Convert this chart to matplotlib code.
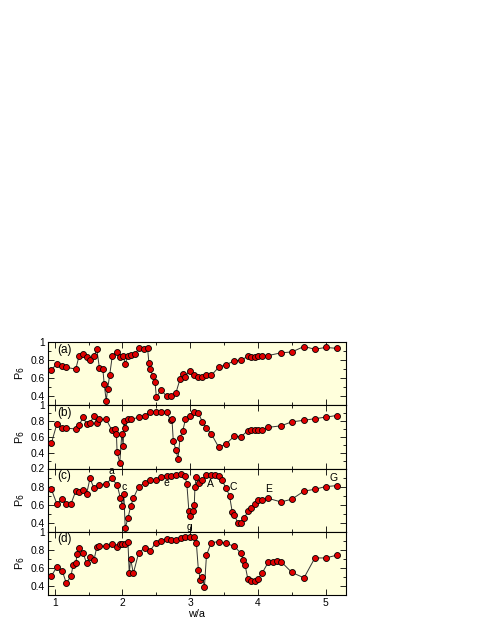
import matplotlib
matplotlib.use("Agg")
import matplotlib.pyplot as plt
from matplotlib.ticker import MultipleLocator

plt.rcParams['font.family'] = ['Liberation Sans', 'DejaVu Sans']

# ---- data ----
xa = [0.95, 1.03, 1.11, 1.17, 1.31, 1.36, 1.41, 1.47, 1.52, 1.58, 1.62, 1.66, 1.71, 1.73, 1.76,
      1.78, 1.81, 1.85, 1.92, 1.97, 2.01, 2.04, 2.08, 2.13, 2.19, 2.24, 2.32, 2.37, 2.39, 2.41,
      2.45, 2.48, 2.50, 2.57, 2.65, 2.72, 2.79, 2.85, 2.90, 2.92, 2.99, 3.06, 3.12, 3.18, 3.24,
      3.31, 3.42, 3.53, 3.65, 3.75, 3.85, 3.90, 3.95, 4.00, 4.06, 4.15, 4.34, 4.50, 4.68, 4.84,
      5.00, 5.16]
ya = [0.69, 0.76, 0.73, 0.72, 0.70, 0.85, 0.87, 0.83, 0.80, 0.84, 0.92, 0.71, 0.70, 0.53, 0.35,
      0.48, 0.63, 0.85, 0.89, 0.83, 0.84, 0.76, 0.85, 0.86, 0.87, 0.93, 0.92, 0.93, 0.77, 0.70,
      0.62, 0.56, 0.39, 0.47, 0.40, 0.40, 0.44, 0.59, 0.65, 0.61, 0.68, 0.63, 0.61, 0.61, 0.63,
      0.63, 0.72, 0.75, 0.79, 0.80, 0.84, 0.83, 0.83, 0.84, 0.85, 0.85, 0.88, 0.89, 0.95, 0.92,
      0.94, 0.93]

xb = [0.95, 1.03, 1.11, 1.17, 1.31, 1.36, 1.42, 1.47, 1.52, 1.58, 1.62, 1.66, 1.76, 1.84, 1.89,
      1.91, 1.92, 1.96, 1.99, 2.01, 2.02, 2.04, 2.08, 2.13, 2.24, 2.33, 2.41, 2.49, 2.57, 2.65,
      2.71, 2.73, 2.75, 2.79, 2.82, 2.85, 2.89, 2.93, 2.99, 3.06, 3.12, 3.18, 3.24, 3.31, 3.42,
      3.53, 3.65, 3.75, 3.85, 3.90, 3.95, 4.00, 4.06, 4.15, 4.34, 4.50, 4.68, 4.84, 5.00, 5.16]
yb = [0.52, 0.76, 0.71, 0.71, 0.70, 0.75, 0.85, 0.76, 0.78, 0.86, 0.78, 0.82, 0.82, 0.69, 0.70,
      0.64, 0.41, 0.27, 0.64, 0.49, 0.80, 0.71, 0.82, 0.82, 0.85, 0.87, 0.92, 0.92, 0.91, 0.91,
      0.81, 0.83, 0.55, 0.43, 0.32, 0.59, 0.68, 0.82, 0.87, 0.91, 0.90, 0.79, 0.71, 0.64, 0.47,
      0.51, 0.61, 0.60, 0.68, 0.69, 0.69, 0.69, 0.69, 0.72, 0.74, 0.79, 0.81, 0.83, 0.85, 0.87]

xc = [0.95, 1.03, 1.11, 1.17, 1.24, 1.31, 1.36, 1.42, 1.47, 1.52, 1.58, 1.66, 1.76, 1.84, 1.92,
      1.97, 2.00, 2.02, 2.04, 2.08, 2.12, 2.16, 2.24, 2.33, 2.41, 2.49, 2.57, 2.65, 2.72, 2.79,
      2.86, 2.92, 2.95, 2.98, 3.00, 3.04, 3.06, 3.07, 3.09, 3.13, 3.18, 3.24, 3.31, 3.36, 3.42,
      3.47, 3.53, 3.58, 3.62, 3.65, 3.70, 3.75, 3.80, 3.85, 3.90, 3.95, 4.00, 4.06, 4.15, 4.34,
      4.50, 4.68, 4.84, 5.00, 5.16]
yc = [0.77, 0.61, 0.66, 0.61, 0.61, 0.75, 0.74, 0.76, 0.72, 0.89, 0.78, 0.82, 0.83, 0.89, 0.82,
      0.67, 0.58, 0.72, 0.34, 0.45, 0.58, 0.67, 0.80, 0.84, 0.87, 0.87, 0.91, 0.92, 0.92, 0.93,
      0.94, 0.92, 0.83, 0.53, 0.47, 0.53, 0.60, 0.80, 0.91, 0.84, 0.87, 0.93, 0.93, 0.93, 0.92,
      0.87, 0.78, 0.70, 0.52, 0.49, 0.40, 0.40, 0.45, 0.53, 0.56, 0.61, 0.65, 0.65, 0.67, 0.63,
      0.66, 0.75, 0.77, 0.80, 0.81]

xd = [0.95, 1.03, 1.11, 1.17, 1.24, 1.27, 1.31, 1.33, 1.36, 1.42, 1.47, 1.52, 1.58, 1.62, 1.66,
      1.76, 1.85, 1.92, 1.96, 2.00, 2.04, 2.08, 2.10, 2.12, 2.16, 2.24, 2.33, 2.41, 2.49, 2.57,
      2.65, 2.72, 2.79, 2.86, 2.92, 2.99, 3.06, 3.09, 3.12, 3.15, 3.18, 3.21, 3.24, 3.31, 3.42,
      3.53, 3.65, 3.75, 3.78, 3.81, 3.85, 3.90, 3.95, 4.00, 4.06, 4.15, 4.22, 4.28, 4.34, 4.50,
      4.68, 4.84, 5.00, 5.16]
yd = [0.51, 0.61, 0.57, 0.43, 0.51, 0.63, 0.65, 0.75, 0.82, 0.76, 0.65, 0.72, 0.69, 0.83, 0.84,
      0.84, 0.86, 0.83, 0.86, 0.86, 0.86, 0.89, 0.54, 0.70, 0.54, 0.77, 0.82, 0.79, 0.88, 0.90,
      0.92, 0.91, 0.91, 0.93, 0.94, 0.94, 0.94, 0.88, 0.58, 0.47, 0.50, 0.39, 0.74, 0.88, 0.89,
      0.87, 0.84, 0.76, 0.69, 0.63, 0.48, 0.45, 0.45, 0.48, 0.54, 0.66, 0.67, 0.68, 0.67, 0.55,
      0.49, 0.71, 0.71, 0.74]

panel_labels = ['(a)', '(b)', '(c)', '(d)']
ylims = [(0.3, 1.0), (0.2, 1.0), (0.3, 1.0), (0.3, 1.0)]
yticklabels_list = [[0.4, 0.6, 0.8, 1.0], [0.2, 0.4, 0.6, 0.8, 1.0], [0.4, 0.6, 0.8], [0.4, 0.6, 0.8, 1.0]]
point_labels = ['a', 'c', 'e', 'g', 'A', 'C', 'E', 'G']
point_label_x = [1.84, 2.03, 2.65, 2.99, 3.30, 3.64, 4.16, 5.11]
point_label_y = [0.97, 0.80, 0.84, 0.35, 0.83, 0.79, 0.77, 0.89]

series = [(xa, ya), (xb, yb), (xc, yc), (xd, yd)]

W, H = 485, 627
fig = plt.figure(figsize=(W / 100, H / 100), dpi=100)

left_px, right_px = 48, 346
top_px, bot_px = 342, 595
ph = (bot_px - top_px) / 4.0

axes = []
for i in range(4):
    y0 = top_px + i * ph
    ax = fig.add_axes([left_px / W, 1 - (y0 + ph) / H, (right_px - left_px) / W, ph / H])
    axes.append(ax)
    x, y = series[i]
    ax.set_facecolor('#ffffdc')
    ax.plot(x, y, '-', color='#333333', lw=0.7, zorder=2)
    ax.plot(x, y, 'o', ms=4.3, mfc='#e00000', mec='black', mew=0.6, zorder=3, clip_on=False)
    ax.set_xlim(0.9, 5.3)
    ax.set_ylim(*ylims[i])
    ax.xaxis.set_major_locator(MultipleLocator(1))
    ax.xaxis.set_minor_locator(MultipleLocator(0.5))
    ax.set_yticks(yticklabels_list[i])
    ax.set_yticklabels(['1' if v == 1.0 else f'{v:.1f}' for v in yticklabels_list[i]])
    ax.yaxis.set_minor_locator(MultipleLocator(0.1))
    ax.tick_params(which='both', direction='in', top=True, right=True, labelsize=7.4, pad=2)
    ax.tick_params(which='major', length=4, width=0.6)
    ax.tick_params(which='minor', length=2, width=0.6)
    for s in ax.spines.values():
        s.set_linewidth(0.8)
    ax.set_ylabel(r'P$_6$', fontsize=7.8, labelpad=2)
    ax.yaxis.set_label_coords(-0.07, 0.5)
    ax.text(0.03, 0.88, panel_labels[i], transform=ax.transAxes, fontsize=8.5,
            ha='left', va='center')
    if i < 3:
        ax.tick_params(labelbottom=False)

for lab, lx, ly in zip(point_labels, point_label_x, point_label_y):
    axes[2].text(lx, ly, lab, fontsize=7.5, ha='center', va='center', zorder=4, clip_on=False)

axes[3].set_xlabel('w/a', fontsize=7.8, labelpad=1)

fig.savefig('out.png', dpi=100)
